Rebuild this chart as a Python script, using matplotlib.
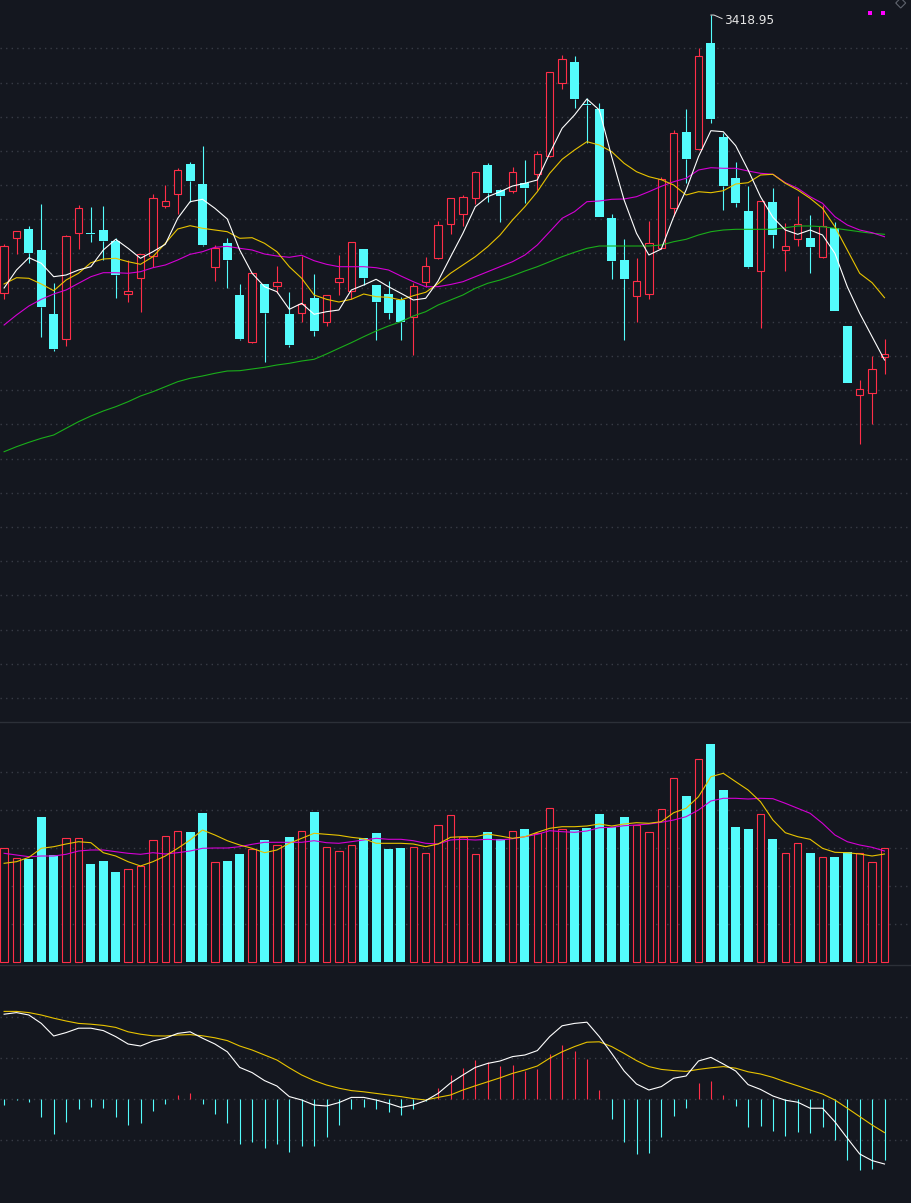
import numpy as np
import matplotlib
matplotlib.use('Agg')
import matplotlib.pyplot as plt
from matplotlib.patches import Rectangle, Polygon
from matplotlib.lines import Line2D

# ---------------- data ----------------
opens = [3141, 3195.7, 3205, 3184, 3120, 3095.3, 3200.7, 3201, 3204, 3193,
         3140.3, 3155.7, 3178.3, 3228.3, 3239.7, 3270, 3250, 3166.7, 3190.7, 3139,
         3091.7, 3150, 3147.7, 3120, 3120.7, 3136, 3112.3, 3151.7, 3143.3, 3185,
         3149, 3140, 3134, 3116.7, 3151.7, 3175.7, 3209.7, 3219.7, 3235.7, 3269,
         3244, 3243.3, 3251, 3259.7, 3277.7, 3350.7, 3372, 3330, 3325, 3215.7,
         3174, 3137.7, 3139.7, 3185.7, 3225.7, 3301.7, 3284.7, 3391, 3297, 3256,
         3223, 3162.7, 3232, 3183.7, 3194.7, 3195.7, 3177.3, 3206.3, 3108, 3038.7,
         3040.7, 3076.7]
highs = [3190, 3203, 3208, 3230, 3150.7, 3198.7, 3229, 3227, 3228, 3195.7,
         3174, 3180, 3240, 3249, 3265.7, 3272.3, 3288.3, 3189, 3195.7, 3150,
         3161, 3150.5, 3168, 3141.7, 3178, 3160, 3139, 3179, 3192, 3185.5,
         3149.5, 3153, 3137.3, 3151.3, 3177, 3213.3, 3236, 3239, 3263, 3271,
         3245.3, 3266.7, 3274, 3283, 3362, 3379, 3378, 3336.3, 3331, 3219.7,
         3195, 3175.7, 3213, 3256.7, 3304, 3325, 3385.7, 3418.95, 3300.7, 3271.7,
         3248, 3233, 3245.7, 3210.7, 3237.7, 3219, 3229, 3211.7, 3108.3, 3054,
         3078, 3094.7]
lows = [3134.7, 3179.7, 3171.3, 3097.3, 3083.3, 3088.3, 3185.3, 3192, 3174, 3136.3,
        3132.3, 3122.3, 3167.3, 3226.3, 3219.7, 3232.3, 3188.3, 3153.3, 3146.3, 3094,
        3091.5, 3072.3, 3141.3, 3086.7, 3112.3, 3098.3, 3108.3, 3139, 3134.7, 3149,
        3094, 3115, 3094, 3079, 3147.3, 3174.7, 3199.7, 3208.3, 3229.7, 3232.3,
        3212.3, 3241.3, 3231.3, 3244, 3277.5, 3345, 3326.3, 3291.3, 3217, 3155.3,
        3094, 3112.3, 3134.7, 3185.5, 3218, 3251.3, 3284.5, 3311.3, 3224, 3227.3,
        3166.3, 3105.7, 3185.7, 3163.3, 3188.3, 3160.7, 3175.7, 3123, 3051, 2989.7,
        3009.7, 3059.7]
closes = [3188, 3202.7, 3181.3, 3127.3, 3085, 3198, 3226, 3200.5, 3193.3, 3159,
          3142.7, 3179.7, 3235.7, 3232.7, 3264, 3253, 3189, 3186, 3174, 3095,
          3160.7, 3121.3, 3151.7, 3089, 3130, 3103.3, 3138.7, 3155.7, 3191.7, 3156.3,
          3132.3, 3121.3, 3112.3, 3148, 3167.7, 3208.7, 3235.7, 3236.7, 3261.7, 3241.3,
          3238.3, 3261.7, 3246.3, 3279.7, 3361.7, 3374.7, 3335.3, 3329.5, 3217.3, 3173.3,
          3155.3, 3152.7, 3190.7, 3255, 3300.7, 3274.7, 3377.7, 3314.7, 3248.3, 3231.3,
          3167.3, 3232.7, 3199, 3187.7, 3209.7, 3187.3, 3208.3, 3123.3, 3051.3, 3044.7,
          3064.7, 3079.7]

ma5 = [3146, 3164, 3176.3, 3170.7, 3157.3, 3159, 3164, 3167.3, 3184, 3194.7,
       3185.7, 3175.7, 3182.3, 3189.7, 3215.7, 3232.3, 3234.7, 3225.7, 3215, 3184,
       3160.7, 3147.3, 3142.3, 3124.7, 3130.7, 3119.7, 3122.3, 3124, 3144, 3149,
       3154.7, 3147.3, 3140.7, 3134, 3135.7, 3153, 3177, 3200.7, 3227.3, 3237.3,
       3242.3, 3248, 3250.7, 3254, 3280.7, 3305.7, 3319, 3335, 3324, 3277.3,
       3234, 3200.7, 3179, 3185, 3217.3, 3244, 3277.3, 3303.3, 3302.3, 3288.3,
       3264, 3237.3, 3216.7, 3204, 3199.7, 3204, 3199, 3180.7, 3147.3, 3120.7,
       3097.3, 3074]
ma10 = [3150, 3156.3, 3155.7, 3150, 3143.3, 3154, 3160.7, 3171.3, 3175, 3175.7,
        3172.3, 3169.7, 3177.3, 3190.7, 3205, 3208.3, 3205.7, 3204, 3202.3, 3195.7,
        3196.3, 3190.7, 3182.3, 3167.3, 3155.7, 3139, 3134.7, 3132, 3134.7, 3140,
        3137.3, 3136.7, 3134, 3138.3, 3141.7, 3150.3, 3160.7, 3169, 3177.3, 3187.3,
        3199, 3214, 3227.3, 3242.3, 3260.7, 3274.7, 3284, 3292.3, 3289, 3282.3,
        3270.7, 3262.3, 3257.3, 3254.3, 3249, 3239, 3242.3, 3241.3, 3243.3, 3250,
        3251.3, 3259, 3259.7, 3250.7, 3244, 3235.7, 3225.7, 3207.3, 3184, 3160.7,
        3151.3, 3136.3]
ma20 = [3109, 3119, 3128, 3134.7, 3140, 3144, 3150.7, 3157.3, 3161.3, 3161.3,
        3160.7, 3162.3, 3166.3, 3169, 3174, 3179.7, 3182.3, 3186.7, 3187.7, 3185.7,
        3184, 3180, 3178, 3176.7, 3178.7, 3173.3, 3169.7, 3167.3, 3167.3, 3167.3,
        3166.3, 3164, 3158, 3152.3, 3147.3, 3147.3, 3149.5, 3152.3, 3157.3, 3162.3,
        3167.3, 3172.3, 3179, 3189, 3202.3, 3215.7, 3222.3, 3232.3, 3233, 3234.7,
        3235, 3237.3, 3242.3, 3247.7, 3252.3, 3255.7, 3264, 3266.3, 3265.7, 3265.7,
        3263, 3260.7, 3259.7, 3251.3, 3245.7, 3237.3, 3230.7, 3217.3, 3209, 3204,
        3201.3, 3197.3]
ma60 = [2982.3, 2987.3, 2991.7, 2995.7, 2999, 3005.7, 3012.3, 3018, 3023, 3027.3,
        3032.3, 3038, 3042.3, 3047.3, 3052.3, 3055.7, 3058, 3060.7, 3063, 3063.3,
        3065, 3066.7, 3069, 3070.7, 3073, 3074.7, 3080, 3085.7, 3091.3, 3097.3,
        3103, 3108, 3112.3, 3118, 3122.3, 3129, 3134, 3139, 3145.7, 3150.7,
        3154, 3158.3, 3163, 3167.3, 3172.3, 3177.3, 3181.7, 3185.7, 3188, 3188,
        3188, 3188, 3188, 3189, 3192.3, 3194.7, 3199, 3202.3, 3204, 3204.7,
        3204.7, 3204.7, 3204.7, 3206.3, 3208, 3208, 3207.3, 3205.7, 3204, 3202.3,
        3200.7, 3199.7]

volume = [1137, 1034, 1030, 1447, 1067, 1234, 1234, 977, 1007, 897,
          924, 957, 1214, 1254, 1304, 1297, 1487, 994, 1007, 1077,
          1124, 1217, 1164, 1247, 1304, 1497, 1144, 1104, 1164, 1237,
          1287, 1127, 1137, 1144, 1084, 1364, 1464, 1244, 1074, 1297,
          1227, 1304, 1327, 1284, 1534, 1327, 1317, 1337, 1477, 1350,
          1447, 1364, 1294, 1524, 1834, 1657, 2024, 2177, 1717, 1347,
          1327, 1474, 1227, 1084, 1184, 1087, 1044, 1047, 1100, 1084,
          994, 1137]
vol_ma5 = [984, 1000, 1044, 1134, 1150, 1177, 1200, 1190, 1090, 1057,
           1000, 957, 1000, 1057, 1134, 1217, 1317, 1267, 1210, 1167,
           1134, 1090, 1117, 1184, 1234, 1284, 1274, 1264, 1244, 1230,
           1184, 1184, 1184, 1177, 1150, 1177, 1244, 1250, 1250, 1277,
           1257, 1234, 1250, 1294, 1334, 1350, 1350, 1357, 1377, 1357,
           1377, 1390, 1384, 1400, 1490, 1534, 1650, 1850, 1884, 1800,
           1717, 1600, 1417, 1290, 1250, 1224, 1134, 1094, 1090, 1077,
           1057, 1077]
vol_ma10 = [1084, 1067, 1050, 1057, 1057, 1074, 1107, 1117, 1117, 1100,
            1084, 1074, 1090, 1077, 1090, 1107, 1134, 1137, 1137, 1150,
            1174, 1194, 1194, 1194, 1194, 1210, 1190, 1184, 1200, 1217,
            1234, 1224, 1224, 1210, 1184, 1177, 1217, 1224, 1217, 1224,
            1217, 1230, 1250, 1274, 1310, 1300, 1294, 1307, 1340, 1344,
            1360, 1367, 1377, 1394, 1417, 1450, 1517, 1607, 1634, 1634,
            1627, 1634, 1630, 1584, 1534, 1484, 1384, 1267, 1200, 1167,
            1144, 1107]

dif = [21.2, 21.6, 21.0, 18.9, 15.75, 16.6, 17.7, 17.7, 17.1, 15.6,
       13.75, 13.25, 14.5, 15.2, 16.4, 16.8, 15.2, 13.75, 11.8, 7.9,
       6.6, 4.6, 3.25, 0.6, -0.25, -1.5, -1.75, -0.9, 0.4, 0.4,
       -0.25, -1.1, -2.1, -1.5, -0.4, 1.4, 4.0, 6.0, 7.9, 8.9,
       9.5, 10.6, 11.0, 12.1, 15.6, 18.3, 18.9, 19.2, 15.6, 11.4,
       7.0, 3.75, 2.25, 3.1, 5.2, 5.75, 9.5, 10.4, 8.75, 7.0,
       3.6, 2.4, 0.75, -0.3, -0.8, -2.3, -2.3, -5.7, -9.8, -13.75,
       -15.4, -16.25]
dea = [21.9, 21.9, 21.6, 21.0, 20.2, 19.5, 18.9, 18.7, 18.4, 17.9,
       16.8, 16.2, 15.8, 15.75, 16.0, 16.1, 15.8, 15.3, 14.6, 13.25,
       12.25, 11.0, 9.75, 7.8, 6.0, 4.6, 3.5, 2.7, 2.1, 1.8,
       1.4, 1.0, 0.6, 0.1, -0.25, 0.4, 1.0, 2.25, 3.3, 4.3,
       5.3, 6.4, 7.25, 8.25, 10.2, 11.8, 13.1, 14.2, 14.3, 13.1,
       11.4, 9.6, 8.1, 7.4, 7.1, 6.9, 7.4, 7.8, 8.1, 7.7,
       6.8, 6.25, 5.4, 4.3, 3.3, 2.25, 1.25, -0.25, -2.3, -4.4,
       -6.5, -8.4]
macd_hist = [-1.5, -0.2, -0.7, -4.4, -8.75, -5.7, -2.4, -1.9, -2.2, -4.4,
             -6.4, -5.9, -2.9, -1.2, 1.0, 1.6, -1.2, -3.7, -5.9, -11.2,
             -10.7, -12.2, -11.2, -13.2, -11.7, -11.7, -9.4, -6.4, -2.4, -1.9,
             -2.4, -3.2, -3.9, -2.4, -0.4, 2.75, 6.1, 7.75, 9.75, 9.2,
             8.25, 8.5, 7.1, 7.5, 11.25, 13.5, 12.0, 10.0, 2.25, -5.0,
             -10.7, -13.7, -13.4, -9.4, -4.2, -2.2, 4.0, 4.5, 1.0, -1.7,
             -6.9, -6.7, -7.9, -9.2, -8.2, -8.4, -6.9, -10.2, -15.2, -17.7,
             -17.4, -15.2]

high_label = "3418.95"

# ---------------- style ----------------
BG = '#14171f'
RED = '#ff2e48'
CYAN = '#54fcfc'
GRID = '#383c46'
SEP = '#2c3038'
WHITE = '#ffffff'
YELLOW = '#e8c300'
MAGENTA = '#d400d4'
GREEN = '#1aae1a'
LW = 0.8

W, H = 911.0, 1203.0
fig = plt.figure(figsize=(W / 100, H / 100), dpi=100, facecolor=BG)


def axes_px(top, bottom):
    ax = fig.add_axes([0, 1 - bottom / H, 1, (bottom - top) / H])
    ax.set_facecolor(BG)
    ax.set_xticks([])
    ax.set_yticks([])
    for s in ax.spines.values():
        s.set_visible(False)
    ax.set_xlim(-4.1 / 12.4, (W - 4.1) / 12.4)
    return ax


ax1 = axes_px(0, 721)
ax2 = axes_px(722, 965)
ax3 = axes_px(965, 1203)

o = np.array(opens, float)
h = np.array(highs, float)
l = np.array(lows, float)
c = np.array(closes, float)
n = len(o)
x = np.arange(n)
up = c >= o
cols = np.where(up, RED, CYAN)

# ---------------- price panel ----------------
ax1.set_ylim(2713, 3434)
for gy in np.arange(3385.7, 2713, -34.2):
    ax1.axhline(gy, color=GRID, lw=1.0, ls=(0, (1, 3)), zorder=0)

top = np.maximum(o, c)
bot = np.minimum(o, c)
ax1.vlines(x, top, h, colors=cols, lw=LW, zorder=2)
ax1.vlines(x, l, bot, colors=cols, lw=LW, zorder=2)
bh = np.maximum(top - bot, 1.0)
ax1.bar(x[up], bh[up], bottom=bot[up], width=0.6, facecolor=BG,
        edgecolor=RED, lw=LW, zorder=3)
ax1.bar(x[~up], bh[~up], bottom=bot[~up], width=0.72, color=CYAN,
        lw=0, zorder=3)

ax1.plot(x, ma60, color=GREEN, lw=LW, zorder=4)
ax1.plot(x, ma20, color=MAGENTA, lw=LW, zorder=4)
ax1.plot(x, ma10, color=YELLOW, lw=LW, zorder=4)
ax1.plot(x, ma5, color=WHITE, lw=LW, zorder=5)

hi = int(np.argmax(h))
ax1.plot([hi, hi + 0.25, hi + 0.9], [h[hi], h[hi], h[hi] - 3.5],
         color='#e0e0e0', lw=0.7, zorder=6)
ax1.text(hi + 1.05, h[hi] - 5.5, high_label, color='#e6e6e6', fontsize=8.7,
         va='center', ha='left', zorder=6)

# ---------------- volume panel ----------------
v = np.array(volume, float)
ax2.set_ylim(-33, 2397)
for gy in [380, 760, 1140, 1520, 1900]:
    ax2.axhline(gy, color=GRID, lw=1.0, ls=(0, (1, 3)), zorder=0)
ax2.bar(x[up], v[up], width=0.6, facecolor=BG, edgecolor=RED, lw=LW, zorder=3)
ax2.bar(x[~up], v[~up], width=0.72, color=CYAN, lw=0, zorder=3)
ax2.plot(x, vol_ma10, color=MAGENTA, lw=LW, zorder=4)
ax2.plot(x, vol_ma5, color=YELLOW, lw=LW, zorder=5)

# ---------------- MACD panel ----------------
mh = np.array(macd_hist, float)
ax3.set_ylim(-26, 33.5)
for gy in [20.4, 10.2, 0, -10.2]:
    ax3.axhline(gy, color=GRID, lw=1.0, ls=(0, (1, 3)), zorder=0)
ax3.vlines(x, 0, mh, colors=np.where(mh >= 0, RED, CYAN), lw=LW, zorder=2)
ax3.plot(x, dea, color=YELLOW, lw=LW, zorder=3)
ax3.plot(x, dif, color=WHITE, lw=LW, zorder=4)

# ---------------- separators & decorations ----------------
for yy in (722, 965):
    fig.add_artist(Line2D([0, 1], [1 - yy / H, 1 - yy / H], color=SEP, lw=1.0,
                          transform=fig.transFigure))


def fp(px, py):
    return (px / W, 1 - py / H)


for sx in (868.3, 881.3):
    fig.add_artist(Rectangle(fp(sx, 15.3), 4 / W, 4 / H, facecolor='#ff00ff',
                             edgecolor='none', transform=fig.transFigure))
fig.add_artist(Polygon([fp(895.7, 3), fp(900.7, 8), fp(905.7, 3), fp(900.7, -2)],
                       closed=True, fill=False, edgecolor='#5e626c', lw=0.8,
                       transform=fig.transFigure))

fig.savefig('out.png', dpi=100, facecolor=BG)
